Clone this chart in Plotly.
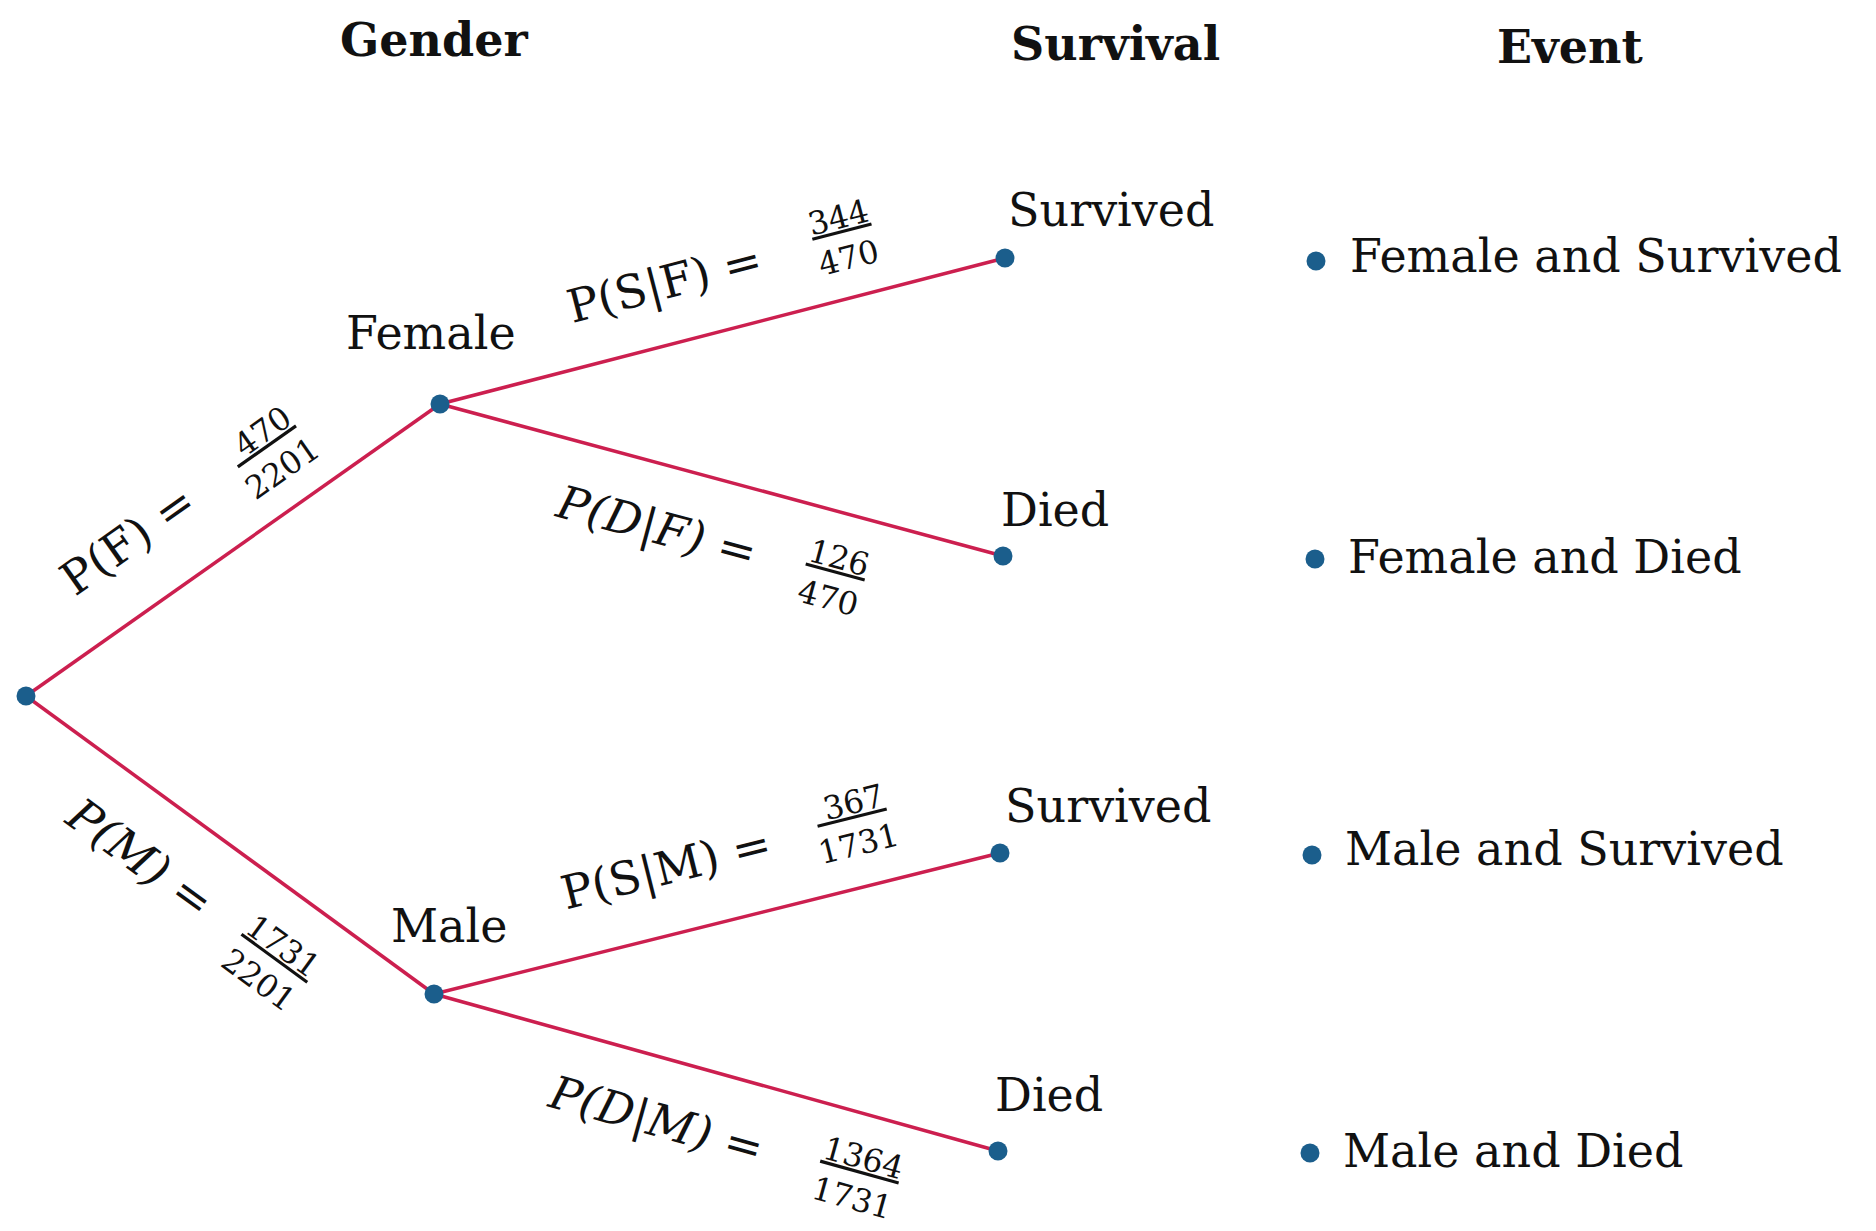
import math
import plotly.graph_objects as go

# ---------------- data ----------------
headers = ["Gender", "Survival", "Event"]
gender_labels = ["Female", "Male"]
survival_labels = ["Survived", "Died"]
event_labels = ["Female and Survived", "Female and Died", "Male and Survived", "Male and Died"]
total = 2201
gender_counts = [470, 1731]
outcome_counts = [[344, 126], [367, 1364]]
gender_symbols = ["F", "M"]
outcome_symbols = ["S", "D"]

# ---------------- layout constants (pixel space) ----------------
W, H = 1876, 1231
root = (26, 696)
gender_nodes = [(440, 404), (434, 994)]
leaf_nodes = [[(1005, 258), (1003, 556)], [(1000, 853), (998, 1151)]]
event_dots = [(1316, 261), (1315, 559), (1312, 855), (1310, 1153)]

LINE = "#cc1f4f"
DOT = "#1b5e8c"
FONT = "DejaVu Serif"

fig = go.Figure()

def edge(a, b):
    fig.add_trace(go.Scatter(x=[a[0], b[0]], y=[a[1], b[1]], mode="lines",
                             line=dict(color=LINE, width=3.5), hoverinfo="skip",
                             showlegend=False))

for gi, g in enumerate(gender_nodes):
    edge(root, g)
    for oi, leaf in enumerate(leaf_nodes[gi]):
        edge(g, leaf)

all_dots = [root] + gender_nodes + [p for row in leaf_nodes for p in row] + event_dots
fig.add_trace(go.Scatter(x=[p[0] for p in all_dots], y=[p[1] for p in all_dots],
                         mode="markers", marker=dict(color=DOT, size=19),
                         hoverinfo="skip", showlegend=False))

def ann(x, y, text, size, angle=0, bold=False, xanchor="center", italic=False):
    if bold:
        text = "<b>" + text + "</b>"
    if italic:
        text = "<i>" + text + "</i>"
    fig.add_annotation(x=x, y=y, xref="x", yref="y", text=text, showarrow=False,
                       textangle=angle, xanchor=xanchor, yanchor="middle",
                       font=dict(family=FONT, size=size, color="#111111"))

def frac(num, den):
    n, d = str(num), str(den)
    pad = max(0, len(d) - len(n))
    nn = "&nbsp;" * pad + n
    return "<span style='text-decoration:underline'>" + nn + "</span><br>" + d

# headers
ann(434, 40, headers[0], 46, bold=True)
ann(1115, 44, headers[1], 46, bold=True)
ann(1570, 47, headers[2], 46, bold=True)

# node labels
ann(431, 333, gender_labels[0], 46)
ann(449, 926, gender_labels[1], 46)
ann(1111, 210, survival_labels[0], 46)
ann(1055, 510, survival_labels[1], 46)
ann(1108, 806, survival_labels[0], 46)
ann(1049, 1095, survival_labels[1], 46)

# event labels
event_text_pos = [(1348, 256), (1346, 557), (1343, 849), (1341, 1151)]
for (x, y), t in zip(event_text_pos, event_labels):
    ann(x, y, t, 46, xanchor="left")

def ang(a, b):
    return math.degrees(math.atan2(b[1] - a[1], b[0] - a[0]))

# gender branch labels
g_lbl_pos = [(128, 540), (140, 858)]
g_frac_pos = [(270, 452), (270, 963)]
g_italic = [False, True]
for gi in range(2):
    a = ang(root, gender_nodes[gi])
    ann(*g_lbl_pos[gi], "P(" + gender_symbols[gi] + ") =", 46, angle=a, italic=g_italic[gi])
    ann(*g_frac_pos[gi], frac(gender_counts[gi], total), 32, angle=a)

# outcome branch labels
o_lbl_pos = [[(664, 283), (656, 527)], [(666, 868), (656, 1120)]]
o_frac_pos = [[(843, 238), (833, 578)], [(853, 824), (857, 1178)]]
for gi in range(2):
    for oi in range(2):
        a = ang(gender_nodes[gi], leaf_nodes[gi][oi])
        txt = "P(" + outcome_symbols[oi] + "|" + gender_symbols[gi] + ") ="
        ann(*o_lbl_pos[gi][oi], txt, 46, angle=a, italic=(oi == 1))
        ann(*o_frac_pos[gi][oi], frac(outcome_counts[gi][oi], gender_counts[gi]), 32, angle=a)

fig.update_layout(width=W, height=H, margin=dict(l=0, r=0, t=0, b=0),
                  paper_bgcolor="white", plot_bgcolor="white",
                  xaxis=dict(range=[0, W], visible=False, fixedrange=True),
                  yaxis=dict(range=[H, 0], visible=False, fixedrange=True),
                  showlegend=False)
fig.write_html("out.html", config={"displayModeBar": False, "staticPlot": True},
               post_script="document.body.style.margin='0';document.body.style.overflow='hidden';")
